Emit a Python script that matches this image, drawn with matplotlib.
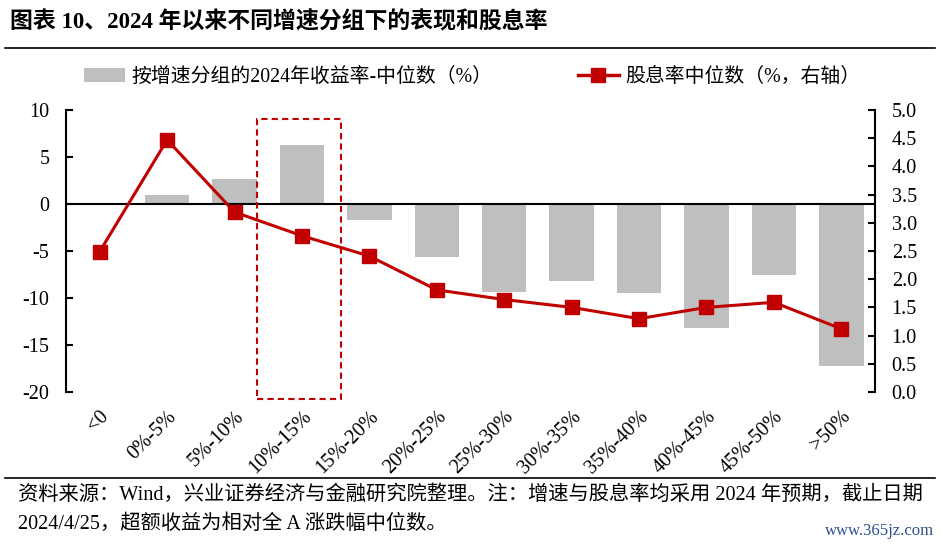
import matplotlib
matplotlib.use("Agg")
import matplotlib.pyplot as plt
from matplotlib.patches import Rectangle, Patch
from matplotlib.lines import Line2D
import numpy as np

categories = ["<0", "0%-5%", "5%-10%", "10%-15%", "15%-20%", "20%-25%", "25%-30%",
              "30%-35%", "35%-40%", "40%-45%", "45%-50%", ">50%"]
excess_return = [0.0, 1.0, 2.7, 6.3, -1.7, -5.6, -9.4, -8.2, -9.5, -13.2, -7.6, -17.2]
dividend_yield = [2.49, 4.47, 3.19, 2.77, 2.41, 1.81, 1.64, 1.50, 1.30, 1.50, 1.59, 1.12]
left_ticks = [10, 5, 0, -5, -10, -15, -20]
right_ticks = [0.0, 0.5, 1.0, 1.5, 2.0, 2.5, 3.0, 3.5, 4.0, 4.5, 5.0]

FAM = ["Liberation Serif", "Noto Sans CJK SC", "DejaVu Sans"]
plt.rcParams["font.family"] = FAM

W, H = 940, 546
fig = plt.figure(figsize=(W / 100, H / 100), dpi=100)
ax = fig.add_axes([66 / W, 1 - 392 / H, (875 - 66) / W, (392 - 110) / H])
ax2 = ax.twinx()

x = np.arange(len(categories))
ax.bar(x, excess_return, width=0.66, color="#BFBFBF", zorder=2,
       label="按增速分组的2024年收益率-中位数（%）")
ax.axhline(0, color="black", lw=1.5, zorder=3)
ax.set_ylim(-20, 10)
ax.set_xlim(-0.5, len(categories) - 0.5)
ax.set_yticks(left_ticks)
ax.set_yticklabels([str(v) for v in left_ticks])

ax2.plot(x, dividend_yield, color="#C00000", lw=2.2, marker="s", markersize=10,
         zorder=5, label="股息率中位数（%，右轴）")
ax2.set_ylim(0, 5)
ax2.set_yticks(right_ticks)
ax2.set_yticklabels([f"{v:.1f}" for v in right_ticks])

for a in (ax, ax2):
    for s in ("top", "bottom"):
        a.spines[s].set_visible(False)
    a.spines["left"].set_linewidth(1.5)
    a.spines["right"].set_linewidth(1.5)
    a.tick_params(axis="y", direction="in", length=5, width=1.5, labelsize=14.5, pad=12)
ax.spines["right"].set_visible(False)
ax2.spines["left"].set_visible(False)

ax.set_xticks(x)
ax.set_xticklabels(categories, rotation=45, ha="right", rotation_mode="anchor",
                   fontsize=14.5)
ax.tick_params(axis="x", length=0, pad=11)

# highlight box
rect = Rectangle((2.34, -20.7), 3.58 - 2.34, 9.04 + 20.7, fill=False,
                 edgecolor="#C00000", lw=1.5, ls=(0, (3, 2)), clip_on=False, zorder=6)
ax.add_patch(rect)

# legend
handles = [Patch(facecolor="#BFBFBF", edgecolor="none"),
           Line2D([0], [0], color="#C00000", lw=2.5, marker="s", markersize=10)]
labels = ["按增速分组的2024年收益率-中位数（%）", "股息率中位数（%，右轴）"]
fig.legend(handles, labels, loc="center", bbox_to_anchor=(472 / W, 1 - 77 / H),
           ncol=2, frameon=False, fontsize=14.3, columnspacing=4.3,
           handlelength=2.1, handletextpad=0.3)

# title and rules
fig.text(10 / W, 1 - 22 / H, "图表 10、2024 年以来不同增速分组下的表现和股息率",
         fontsize=16.5, fontweight="bold", va="center", ha="left",
         family=["Liberation Serif", "Noto Sans CJK SC"])
fig.add_artist(Line2D([5 / W, 935 / W], [1 - 48 / H, 1 - 48 / H], color="black", lw=1.2))
fig.add_artist(Line2D([5 / W, 935 / W], [1 - 478 / H, 1 - 478 / H], color="black", lw=1.2))

fig.text(18 / W, 1 - 495 / H,
         "资料来源：Wind，兴业证券经济与金融研究院整理。注：增速与股息率均采用 2024 年预期，截止日期",
         fontsize=14.6, va="center", ha="left")
fig.text(18 / W, 1 - 524 / H, "2024/4/25，超额收益为相对全 A 涨跌幅中位数。",
         fontsize=14.6, va="center", ha="left")
fig.text(934 / W, 1 - 531 / H, "www.365jz.com", fontsize=12, color="#2F4F8F",
         va="center", ha="right")

fig.savefig("out.png", dpi=100)
